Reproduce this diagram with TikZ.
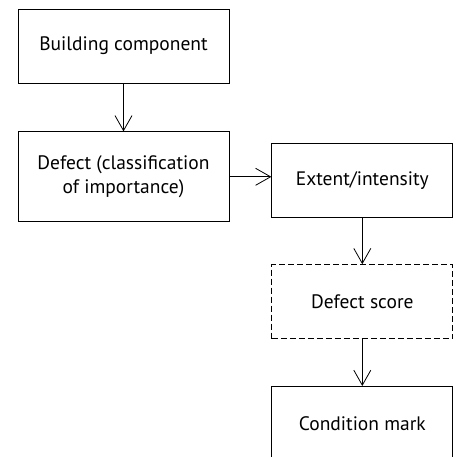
\documentclass[tikz,border=0pt]{standalone}
\usepackage{fontspec}
\setmainfont{PT Sans}
\usetikzlibrary{positioning,arrows.meta}

\begin{document}
\begin{tikzpicture}[%
    x=1pt, y=1pt,
    font=\fontsize{19.5}{23.5}\selectfont,
    boxnode/.style={
        draw,
        line width=0.8pt,
        align=center,
        inner sep=0pt,
        minimum height=74pt
        },
    widebox/.style={
        boxnode,
        minimum width=211pt
        },
    narrowbox/.style={
        boxnode,
        minimum width=181pt
        },
    dashedbox/.style={
        narrowbox,
        dash pattern=on 6pt off 3pt
        },
    flow/.style={%
        line width=0.8pt,
        -{Straight Barb[length=15pt,width=17pt]}}
]

\useasboundingbox (0,0) rectangle (455,-457);

\node[widebox] (component) at (123.5,-46) {Building component};
\node[widebox, minimum height=90pt, below=48pt of component] (defect)
    {Defect (classification\\of importance)};
\node[narrowbox, right=42pt of defect, yshift=-4pt] (extent) {Extent/intensity};
\node[dashedbox, below=46pt of extent] (score) {Defect score};
\node[narrowbox, below=47pt of score] (mark) {Condition mark};

\draw[flow] (component) -- (defect);
\draw[flow] (defect.east) -- (defect.east -| extent.west);
\draw[flow] (extent) -- (score);
\draw[flow] (score) -- (mark);

\end{tikzpicture}
\end{document}
